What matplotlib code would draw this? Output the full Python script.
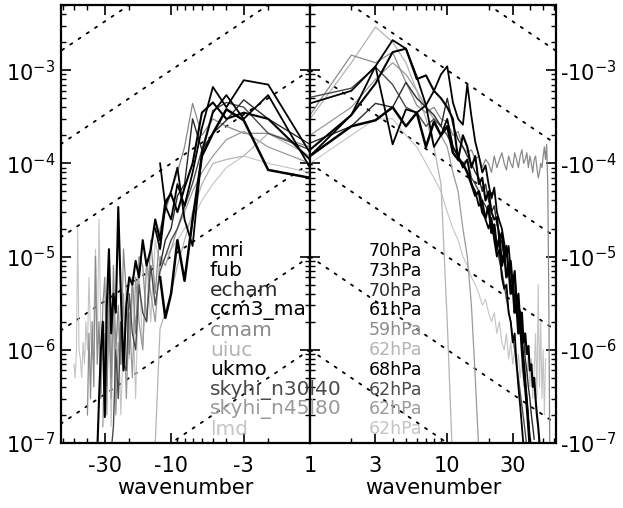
import numpy as np
import matplotlib
matplotlib.use("Agg")
import matplotlib.pyplot as plt
from matplotlib.ticker import FixedLocator, FixedFormatter, NullFormatter

plt.rcParams['font.family'] = ['DejaVu Sans']

# ---------------- data ----------------
models = ["mri", "fub", "echam", "ccm3_ma", "cmam", "uiuc", "ukmo",
          "skyhi_n30l40", "skyhi_n45l80", "lmd"]
levels = ["70hPa", "73hPa", "70hPa", "61hPa", "59hPa", "62hPa", "68hPa",
          "62hPa", "62hPa", "62hPa"]
colors = ["#000000", "#000000", "#2a2a2a", "#000000", "#8a8a8a", "#b4b4b4",
          "#000000", "#4a4a4a", "#9a9a9a", "#c4c4c4"]
widths = [1.3, 1.3, 1.0, 1.8, 0.9, 0.9, 1.5, 1.0, 0.9, 0.8]

# westward spectra (wavenumber 1, 2, 3, ...)
mri_w = [1.3e-4, 7.0e-4, 7.8e-4, 4.0e-4, 6.6e-4, 2.4e-4, 8.0e-5, 3.5e-5, 6.0e-5,
         2.5e-5, 3.5e-5, 1.2e-5, 2.0e-5]
fub_w = [9.0e-5, 5.4e-4, 3.0e-4, 5.4e-4, 3.5e-4, 1.3e-4, 1.3e-5, 2.5e-5, 9.0e-5,
         5.0e-5, 3.5e-5, 1.0e-4]
echam_w = [1.6e-4, 3.0e-4, 4.8e-4, 2.9e-4, 2.1e-4, 1.4e-4, 3.0e-4, 6.0e-5, 4.5e-5,
           2.0e-5, 1.5e-5, 8.0e-6]
ccm3_w = [7.0e-5, 8.5e-5, 2.9e-4, 3.8e-4, 2.1e-4, 1.2e-4, 2.5e-5, 5.5e-6, 1.5e-5,
          4.0e-6, 2.2e-6, 6.0e-6]
cmam_w = [1.5e-4, 2.1e-4, 2.1e-4, 2.5e-4, 3.0e-4, 2.0e-4, 4.4e-4, 1.5e-4, 8.0e-5,
          5.0e-5, 3.0e-5, 2.0e-5, 4.0e-6, 1.5e-5, 2.0e-6, 8.0e-6, 1.0e-5, 1.5e-6,
          6.0e-6, 9.0e-7, 4.0e-6, 1.2e-5, 7.0e-7, 3.0e-6, 1.0e-6, 8.0e-6, 5.0e-7,
          2.0e-6, 4.0e-7, 6.0e-6, 3.0e-6, 3.0e-7, 2.0e-6, 7.0e-7, 1.0e-5, 4.0e-7,
          2.0e-6, 3.0e-7, 1.5e-6, 2.0e-7]
uiuc_w = [1.2e-4, 2.1e-4, 1.2e-4, 1.1e-4, 1.0e-4, 6.0e-5, 3.0e-5, 1.5e-5, 8.0e-6,
          4.0e-6, 2.5e-6, 1.7e-6, 1.0e-7, 5.0e-8]
ukmo_w = [1.1e-4, 3.0e-4, 3.5e-4, 3.0e-4, 4.5e-4, 3.5e-4, 1.0e-4, 5.5e-5, 3.0e-5,
          4.7e-5, 3.9e-5, 1.5e-5, 2.5e-5, 1.2e-5, 8.0e-6, 1.5e-5, 6.0e-6, 9.0e-6,
          5.0e-6, 6.0e-6, 3.0e-6, 6.0e-7, 4.0e-6, 3.4e-5, 2.5e-6, 4.0e-6, 1.5e-6,
          1.2e-5, 3.0e-6, 1.9e-7, 2.0e-6, 1.0e-6, 3.0e-7, 8.0e-8]
sky30_w = [1.4e-4, 2.1e-4, 4.0e-4, 4.5e-4, 3.7e-4, 1.4e-4, 6.1e-5, 3.4e-5, 2.0e-5,
           1.5e-5, 1.0e-5, 7.0e-6, 3.0e-6, 8.0e-6, 2.0e-6, 2.5e-6, 5.0e-6, 1.0e-6,
           1.5e-6, 4.0e-6, 6.0e-7, 7.0e-7, 2.0e-6, 3.0e-7, 1.0e-6, 1.5e-7, 8.0e-8]
sky45_w = [1.0e-4, 1.5e-4, 2.2e-4, 1.8e-4, 1.2e-4, 8.0e-5, 5.0e-5, 3.0e-5, 2.0e-5,
           1.2e-5, 8.0e-6, 1.0e-5, 2.0e-6, 4.0e-6, 9.0e-6, 1.0e-6, 2.0e-6, 6.0e-6,
           5.0e-7, 2.5e-6, 3.0e-7, 4.0e-6, 7.0e-7, 1.2e-6, 2.0e-7, 3.0e-6, 3.0e-7,
           8.0e-6, 2.0e-7, 1.5e-6, 1.5e-7]
lmd_w = [8.0e-5, 1.0e-4, 1.2e-4, 9.0e-5, 6.0e-5, 4.0e-5, 2.5e-5, 2.0e-5, 1.5e-5,
         1.2e-5, 1.0e-5, 8.0e-6, 1.5e-5, 2.0e-6, 9.0e-6, 1.0e-6, 7.0e-6, 3.0e-7,
         5.0e-6, 8.0e-7, 4.0e-6, 1.5e-6, 2.0e-7, 2.0e-6, 1.0e-6, 2.5e-6, 1.5e-7,
         3.0e-6, 1.0e-6, 2.0e-6, 8.0e-7, 1.5e-6, 2.5e-5, 1.0e-6, 1.2e-5, 2.0e-6,
         8.0e-7, 1.5e-6, 6.0e-6, 1.0e-6, 2.0e-6, 7.0e-7, 1.2e-6, 5.0e-7, 8.0e-7,
         1.0e-6, 2.0e-5, 1.0e-6, 5.0e-7, 7.0e-7]

# eastward spectra (wavenumber 1, 2, 3, ...)
mri_e = [1.2e-4, 3.3e-4, 1.1e-3, 2.1e-3, 1.7e-3, 8.5e-4, 4.2e-4, 6.0e-4, 9.0e-4,
         1.1e-3, 4.5e-4, 3.0e-4, 2.6e-4, 7.0e-4, 3.2e-4, 1.7e-4, 1.2e-4, 8.0e-5,
         9.5e-5, 6.0e-5, 4.2e-5, 5.5e-5, 3.0e-5, 2.4e-5, 2.0e-5, 1.4e-5, 1.0e-5,
         1.3e-5, 7.0e-6, 5.0e-6, 6.5e-6, 3.2e-6, 2.0e-6, 2.6e-6, 1.3e-6, 8.0e-7,
         5.0e-7, 3.0e-7, 1.8e-7, 1.1e-7]
fub_e = [4.4e-4, 6.0e-4, 1.1e-3, 1.6e-4, 3.8e-4, 3.5e-4, 4.2e-4, 1.5e-4, 2.0e-4,
         3.0e-4, 1.5e-4, 1.2e-4, 9.0e-5, 1.1e-4, 6.0e-5, 5.0e-5, 3.5e-5, 4.0e-5,
         2.5e-5, 2.0e-5, 2.6e-5, 1.5e-5, 1.0e-5, 1.2e-5, 6.0e-6, 4.5e-6, 5.0e-6,
         2.5e-6, 2.0e-6, 1.2e-6, 1.5e-6, 7.0e-7, 4.0e-7, 2.5e-7, 1.5e-7, 9.0e-8]
echam_e = [1.65e-4, 2.5e-4, 4.4e-4, 4.0e-4, 7.4e-4, 5.0e-4, 4.0e-4, 3.3e-4, 2.5e-4,
           5.0e-4, 2.6e-4, 1.8e-4, 1.5e-4, 1.2e-4, 1.0e-4, 8.0e-5, 7.0e-5, 5.0e-5,
           6.0e-5, 4.0e-5, 3.0e-5, 3.5e-5, 2.2e-5, 1.8e-5, 1.4e-5, 1.0e-5, 1.2e-5,
           7.0e-6, 5.0e-6, 6.0e-6, 3.5e-6, 2.5e-6, 3.0e-6, 1.6e-6, 1.2e-6, 1.4e-6,
           8.0e-7, 6.0e-7, 4.0e-7, 3.0e-7, 2.0e-7, 1.5e-7, 1.1e-7]
ccm3_e = [1.2e-4, 2.5e-4, 2.9e-4, 4.0e-4, 2.5e-4, 3.5e-4, 1.5e-4, 2.8e-4, 2.0e-4,
          2.5e-4, 1.3e-4, 1.1e-4, 1.0e-4, 8.0e-5, 6.0e-5, 4.5e-5, 5.0e-5, 3.0e-5,
          2.6e-5, 3.5e-5, 1.8e-5, 2.2e-5, 1.2e-5, 1.6e-5, 8.0e-6, 1.1e-5, 6.0e-6,
          8.0e-6, 4.0e-6, 5.0e-6, 2.5e-6, 3.0e-6, 1.5e-6, 2.0e-6, 1.0e-6, 6.0e-7,
          4.0e-7, 2.5e-7, 1.5e-7, 9.0e-8]
cmam_e = [3.3e-4, 1.45e-3, 1.2e-3, 1.56e-3, 7.4e-4, 4.2e-4, 3.5e-4, 4.0e-4, 3.0e-4,
          2.8e-4, 2.0e-4, 2.2e-4, 1.5e-4, 1.3e-4, 1.4e-4, 1.1e-4, 1.2e-4, 9.0e-5,
          1.1e-4, 1.0e-4, 8.0e-5, 1.2e-4, 9.0e-5, 1.1e-4, 1.3e-4, 1.0e-4, 8.5e-5,
          1.2e-4, 1.0e-4, 9.0e-5, 1.3e-4, 1.1e-4, 9.0e-5, 1.2e-4, 1.4e-4, 1.0e-4,
          1.1e-4, 1.3e-4, 9.0e-5, 1.2e-4, 1.0e-4, 8.0e-5, 1.1e-4, 1.2e-4, 9.0e-5,
          7.0e-5, 8.0e-5, 1.0e-4, 9.0e-5, 1.2e-4, 1.5e-4, 1.1e-4, 1.6e-4, 6.0e-5,
          3.0e-6, 5.0e-8]
uiuc_e = [3.0e-4, 1.2e-3, 2.9e-3, 2.0e-3, 1.2e-3, 6.0e-4, 3.0e-4, 1.5e-4, 6.0e-5,
          2.0e-6, 5.0e-8]
ukmo_e = [1.4e-4, 3.3e-4, 7.2e-4, 1.56e-3, 1.7e-3, 8.0e-4, 8.8e-4, 6.0e-4, 5.0e-4,
          4.0e-4, 3.0e-4, 1.1e-4, 2.0e-4, 1.5e-4, 9.0e-5, 1.2e-4, 6.0e-5, 7.0e-5,
          4.0e-5, 5.0e-5, 3.0e-5, 2.5e-5, 2.65e-5, 1.5e-5, 1.8e-5, 1.0e-5, 1.3e-5,
          7.0e-6, 9.0e-6, 5.0e-6, 7.0e-6, 3.0e-6, 4.0e-6, 2.0e-6, 2.5e-6, 1.2e-6,
          1.5e-6, 9.0e-7, 1.1e-6, 6.0e-7, 7.0e-7, 4.0e-7, 5.0e-7, 3.0e-7, 2.0e-7,
          1.5e-7, 1.0e-7, 8.0e-8]
sky30_e = [5.1e-4, 6.4e-4, 1.08e-3, 7.0e-4, 4.0e-4, 3.5e-4, 2.5e-4, 3.0e-4, 2.5e-4,
           2.0e-4, 1.5e-4, 1.2e-4, 1.0e-4, 1.1e-4, 7.0e-5, 6.0e-5, 5.0e-5, 4.0e-5,
           3.5e-5, 3.0e-5, 2.0e-5, 1.6e-5, 1.2e-5, 9.0e-6, 7.0e-6, 5.0e-6, 3.5e-6,
           2.6e-6, 2.0e-6, 1.4e-6, 1.0e-6, 7.0e-7, 5.0e-7, 3.5e-7, 2.5e-7, 1.8e-7,
           1.3e-7, 9.0e-8]
sky45_e = [2.0e-4, 4.0e-4, 8.0e-4, 1.2e-3, 9.0e-4, 6.0e-4, 4.0e-4, 3.0e-4, 2.0e-4,
           1.5e-4, 8.0e-5, 5.0e-5, 2.0e-5, 1.0e-5, 3.0e-6, 5.0e-7, 8.0e-8]
lmd_e = [1.0e-4, 2.0e-4, 3.0e-4, 3.0e-4, 2.0e-4, 1.5e-4, 1.0e-4, 7.0e-5, 5.0e-5,
         3.0e-5, 2.0e-5, 1.5e-5, 1.0e-5, 8.0e-6, 6.0e-6, 5.0e-6, 4.0e-6, 3.0e-6,
         3.5e-6, 2.5e-6, 2.0e-6, 2.5e-6, 1.5e-6, 2.0e-6, 1.2e-6, 1.0e-6, 1.5e-6,
         8.0e-7, 1.2e-6, 7.0e-7, 1.0e-6, 6.0e-7, 9.0e-7, 5.0e-7, 8.0e-7, 4.0e-7,
         7.0e-7, 5.0e-7, 1.0e-6, 4.0e-7, 8.0e-7, 3.0e-7, 6.0e-7, 1.5e-6, 3.0e-7,
         5.0e-6, 4.0e-7, 2.0e-6, 3.0e-7, 1.0e-6, 2.0e-7, 8.0e-7]

west = [mri_w, fub_w, echam_w, ccm3_w, cmam_w, uiuc_w, ukmo_w, sky30_w, sky45_w, lmd_w]
east = [mri_e, fub_e, echam_e, ccm3_e, cmam_e, uiuc_e, ukmo_e, sky30_e, sky45_e, lmd_e]

ref_levels = [1e-1, 1e-2, 1e-3, 1e-4, 1e-5, 1e-6, 1e-7, 1e-8]  # C / |k| guide lines
kmax = 62.0
ymin, ymax = 1e-7, 5e-3

# ---------------- figure ----------------
W, H = 623, 508
fig = plt.figure(figsize=(W / 100, H / 100), dpi=100)
axL = fig.add_axes([61 / W, 65 / H, 249 / W, 438 / H])
axR = fig.add_axes([310 / W, 65 / H, 246 / W, 438 / H])

order = [9, 8, 5, 4, 7, 2, 0, 1, 6, 3]  # light lines first
for ax, data in ((axL, west), (axR, east)):
    kref = np.array([1.0, kmax])
    for c in ref_levels:
        ax.plot(kref, c / kref, color="black", lw=1.3, ls=(0, (1.3, 4.2)),
                dash_capstyle="round", zorder=1)
    for i in order:
        v = np.array(data[i])
        k = np.arange(1, len(v) + 1)
        ax.plot(k, v, color=colors[i], lw=widths[i], zorder=2)
    ax.set_xscale("log")
    ax.set_yscale("log")
    ax.set_ylim(ymin, ymax)
    for s in ax.spines.values():
        s.set_linewidth(1.6)

axL.set_xlim(kmax, 1)
axR.set_xlim(1, kmax)

minor_k = [2, 4, 5, 6, 7, 8, 9, 20, 40, 50, 60]
axL.xaxis.set_major_locator(FixedLocator([30, 10, 3, 1]))
axL.xaxis.set_major_formatter(FixedFormatter(["-30", "-10", "-3", ""]))
axR.xaxis.set_major_locator(FixedLocator([1, 3, 10, 30]))
axR.xaxis.set_major_formatter(FixedFormatter(["1", "3", "10", "30"]))
for ax in (axL, axR):
    ax.xaxis.set_minor_locator(FixedLocator(minor_k))
    ax.xaxis.set_minor_formatter(NullFormatter())
    ax.set_xlabel("wavenumber", fontsize=15, labelpad=2)

dec = [1e-7, 1e-6, 1e-5, 1e-4, 1e-3]
minor_y = [m * d for d in [1e-8, 1e-7, 1e-6, 1e-5, 1e-4, 1e-3] for m in range(2, 10)]
for ax in (axL, axR):
    ax.yaxis.set_major_locator(FixedLocator(dec))
    ax.yaxis.set_minor_locator(FixedLocator(minor_y))
    ax.yaxis.set_minor_formatter(NullFormatter())
    ax.tick_params(axis="both", which="major", direction="in", length=7, width=1.2,
                   top=True, bottom=True, left=True, right=True, labelsize=15)
    ax.tick_params(axis="both", which="minor", direction="in", length=3.5, width=1.0,
                   top=True, bottom=True, left=True, right=True)
    ax.tick_params(axis="x", which="major", pad=9)

axL.yaxis.set_major_formatter(FixedFormatter(
    [r"$\mathdefault{10^{%d}}$" % e for e in (-7, -6, -5, -4, -3)]))
axL.tick_params(axis="y", labelleft=True, labelright=False, pad=4)
axR.yaxis.set_major_formatter(FixedFormatter(
    [r"-$\mathdefault{10^{%d}}$" % e for e in (-7, -6, -5, -4, -3)]))
axR.tick_params(axis="y", labelleft=False, labelright=True, pad=3)

# legend-like labels
y0, dy = 251, 19.8
for i in range(len(models)):
    yc = 1 - (y0 + i * dy) / H
    fig.text(210 / W, yc, models[i], color=colors[i], fontsize=14.5,
             va="center", ha="left")
    fig.text(369 / W, yc, levels[i], color=colors[i], fontsize=12.5,
             va="center", ha="left")

fig.savefig("out.png", dpi=100)
